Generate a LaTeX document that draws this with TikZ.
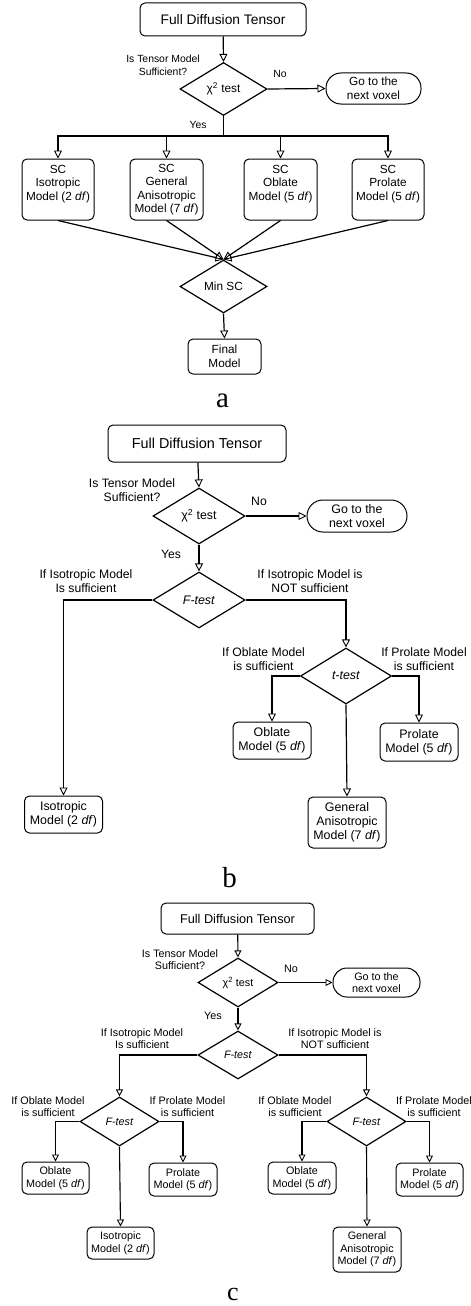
\documentclass[tikz,border=0pt]{standalone}
\usepackage{fontspec}
\setmainfont{Liberation Sans}
\newfontfamily\serifl{Liberation Serif}
\usetikzlibrary{arrows.meta,shapes.geometric}
\begin{document}
\begin{tikzpicture}[x=1pt,y=-1pt,
  box/.style={draw, rounded corners=5pt, line width=1pt, align=center, inner sep=0pt},
  gobox/.style={draw, rounded corners=14pt, line width=1pt, align=center, inner sep=0pt},
  dia/.style={draw, diamond, line width=1.2pt, inner sep=0pt, align=center},
  lbl/.style={align=center, inner sep=0pt},
  conn/.style={line width=1.2pt, -{Triangle[open, length=8pt, width=8pt, line width=0.9pt]}},
  connc/.style={line width=1.1pt, -{Triangle[open, length=7pt, width=7pt, line width=0.9pt]}},
  wire/.style={line width=1.2pt},
  titA/.style={font=\fontsize{13.8}{16}\selectfont},
  ndA/.style={font=\fontsize{11.8}{13.5}\selectfont},
  lbA/.style={font=\fontsize{10.4}{13}\selectfont},
  titB/.style={font=\fontsize{14.4}{17}\selectfont},
  ndB/.style={font=\fontsize{12.4}{14}\selectfont},
  lbB/.style={font=\fontsize{12.2}{14}\selectfont},
  titC/.style={font=\fontsize{12.7}{15}\selectfont},
  ndC/.style={font=\fontsize{10.8}{12.6}\selectfont},
  lbC/.style={font=\fontsize{10.8}{11.8}\selectfont},
  panelcap/.style={font=\serifl\fontsize{29}{30}\selectfont, inner sep=0pt, anchor=base}
]
\useasboundingbox (0,0) rectangle (471,1306);

% ---------------- panel a ----------------
\node[box, titA, minimum width=166pt, minimum height=33pt] (tA) at (223,19.5) {Full Diffusion Tensor};
\node[dia, ndA, minimum width=87pt, minimum height=53pt] (dA1) at (223.5,89) {χ\textsuperscript{2} test};
\node[gobox, ndA, minimum width=95pt, minimum height=31pt, rounded corners=15pt] (gA) at (373.5,88.5) {Go to the\\next voxel};
\node[lbl, lbA] (qA) at (163,65.5) {Is Tensor Model\\Sufficient?};
\node[lbl, lbA] (noA) at (280,74) {No};
\node[lbl, lbA] (yesA) at (198,125) {Yes};
\coordinate (jA) at (223.5,136);
\node[box, ndA, minimum width=72pt, minimum height=61pt] (a1) at (58,189.5) {SC\\Isotropic\\Model (2 \textit{df})\\\mbox{}};
\node[box, ndA, minimum width=73pt, minimum height=61pt] (a2) at (166.5,189.5) {SC\\General\\Anisotropic\\Model (7 \textit{df})};
\node[box, ndA, minimum width=73pt, minimum height=61pt] (a3) at (280.5,189.5) {SC\\Oblate\\Model (5 \textit{df})\\\mbox{}};
\node[box, ndA, minimum width=72pt, minimum height=61pt] (a4) at (388,189.5) {SC\\Prolate\\Model (5 \textit{df})\\\mbox{}};
\node[dia, ndA, minimum width=87pt, minimum height=53pt] (mA) at (223.5,286.5) {Min SC};
\node[box, ndA, minimum width=73pt, minimum height=35pt] (fA) at (224.5,356.5) {Final\\Model};
\node[panelcap] (capA) at (222.5,407) {a};

\draw[conn] (tA) -- (dA1.north);
\draw[conn] (dA1.east) -- (gA.west);
\draw[wire] (dA1.south) -- (jA);
\draw[conn] (jA) -| (a1.north);
\draw[conn] (jA) -| (a4.north);
\draw[conn] (a2.north |- jA) -- (a2.north);
\draw[conn] (a3.north |- jA) -- (a3.north);
\foreach \n in {a1,a2,a3,a4} \draw[conn] (\n.south) -- (mA.north);
\draw[conn] (mA.south) -- (fA.north);

% ---------------- panel b ----------------
\node[box, titB, minimum width=178pt, minimum height=37pt] (tB) at (197,443.5) {Full Diffusion Tensor};
\node[dia, ndB, minimum width=92pt, minimum height=56pt] (dB1) at (199,516) {χ\textsuperscript{2} test};
\node[gobox, ndB, minimum width=100pt, minimum height=32pt, rounded corners=16pt] (gB) at (357,516) {Go to the\\next voxel};
\node[lbl, lbB] (qB) at (132,490.5) {Is Tensor Model\\Sufficient?};
\node[lbl, lbB] (noB) at (259,501) {No};
\node[lbl, lbB] (yesB) at (171,554) {Yes};
\node[dia, ndB, minimum width=92pt, minimum height=56pt] (dB2) at (199,600) {\textit{F-test}};
\node[lbl, lbB] (lB1) at (86,581) {If Isotropic Model\\Is sufficient};
\node[lbl, lbB] (lB2) at (310,581) {If Isotropic Model is\\NOT sufficient};
\node[box, ndB, minimum width=78pt, minimum height=37pt] (iB) at (63.5,814.5) {Isotropic\\Model (2 \textit{df})};
\node[dia, ndB, minimum width=91pt, minimum height=56pt] (dB3) at (346,676) {\textit{t-test}};
\node[lbl, lbB] (lB3) at (263.5,659.5) {If Oblate Model\\is sufficient};
\node[lbl, lbB] (lB4) at (424,659.5) {If Prolate Model\\is sufficient};
\node[box, ndB, minimum width=78pt, minimum height=37pt] (oB) at (272,740.5) {Oblate\\Model (5 \textit{df})};
\node[box, ndB, minimum width=78pt, minimum height=38pt] (pB) at (419,742) {Prolate\\Model (5 \textit{df})};
\node[box, ndB, minimum width=78pt, minimum height=51pt] (gaB) at (347,822.5) {General\\Anisotropic\\Model (7 \textit{df})};
\node[panelcap] (capB) at (229.5,887) {b};

\draw[conn] (tB) -- (dB1.north);
\draw[conn] (dB1.east) -- (gB.west);
\draw[conn] (dB1.south) -- (dB2.north);
\draw[conn] (dB2.west) -| (iB.north);
\draw[conn] (dB2.east) -| (dB3.north);
\draw[conn] (dB3.west) -| (oB.north);
\draw[conn] (dB3.east) -| (pB.north);
\draw[conn] (dB3.south) -- (gaB.north);

% ---------------- panel c ----------------
\node[box, titC, minimum width=153pt, minimum height=31pt] (tC) at (237.5,918.5) {Full Diffusion Tensor};
\node[dia, ndC, minimum width=80pt, minimum height=49pt] (dC1) at (238,982.5) {χ\textsuperscript{2} test};
\node[gobox, ndC, minimum width=87pt, minimum height=29pt, rounded corners=14pt] (gC) at (376.5,982.5) {Go to the\\next voxel};
\node[lbl, lbC] (qC) at (180,960) {Is Tensor Model\\Sufficient?};
\node[lbl, lbC] (noC) at (291,969) {No};
\node[lbl, lbC] (yesC) at (213,1016) {Yes};
\node[dia, ndC, minimum width=80pt, minimum height=48pt] (dC2) at (238,1055) {\textit{F-test}};
\node[lbl, lbC] (lC1) at (142,1038.5) {If Isotropic Model\\Is sufficient};
\node[lbl, lbC] (lC2) at (335,1038.5) {If Isotropic Model is\\NOT sufficient};
\node[dia, ndC, minimum width=79pt, minimum height=49pt] (dC3) at (119.5,1121.5) {\textit{F-test}};
\node[dia, ndC, minimum width=79pt, minimum height=49pt] (dC4) at (366.5,1121.5) {\textit{F-test}};
\node[lbl, lbC] (lC3) at (48,1106.5) {If Oblate Model\\is sufficient};
\node[lbl, lbC] (lC4) at (187.5,1106.5) {If Prolate Model\\is sufficient};
\node[lbl, lbC] (lC5) at (295,1106.5) {If Oblate Model\\is sufficient};
\node[lbl, lbC] (lC6) at (434,1106.5) {If Prolate Model\\is sufficient};
\node[box, ndC, minimum width=67pt, minimum height=32pt] (oC1) at (55.5,1178) {Oblate\\Model (5 \textit{df})};
\node[box, ndC, minimum width=68pt, minimum height=33pt] (pC1) at (183,1179.5) {Prolate\\Model (5 \textit{df})};
\node[box, ndC, minimum width=67pt, minimum height=32pt] (iC) at (120.5,1243) {Isotropic\\Model (2 \textit{df})};
\node[box, ndC, minimum width=68pt, minimum height=32pt] (oC2) at (302,1178) {Oblate\\Model (5 \textit{df})};
\node[box, ndC, minimum width=67pt, minimum height=33pt] (pC2) at (429.5,1179.5) {Prolate\\Model (5 \textit{df})};
\node[box, ndC, minimum width=68pt, minimum height=45pt] (gaC) at (367,1249.5) {General\\Anisotropic\\Model (7 \textit{df})};
\node[panelcap, font=\serifl\fontsize{26}{28}\selectfont] (capC) at (233,1300) {c};

\draw[connc] (tC) -- (dC1.north);
\draw[connc] (dC1.east) -- (gC.west);
\draw[connc] (dC1.south) -- (dC2.north);
\draw[connc] (dC2.west) -| (dC3.north);
\draw[connc] (dC2.east) -| (dC4.north);
\draw[connc] (dC3.west) -| (oC1.north);
\draw[connc] (dC3.east) -| (pC1.north);
\draw[connc] (dC3.south) -- (iC.north);
\draw[connc] (dC4.west) -| (oC2.north);
\draw[connc] (dC4.east) -| (pC2.north);
\draw[connc] (dC4.south) -- (gaC.north);
\end{tikzpicture}
\end{document}
